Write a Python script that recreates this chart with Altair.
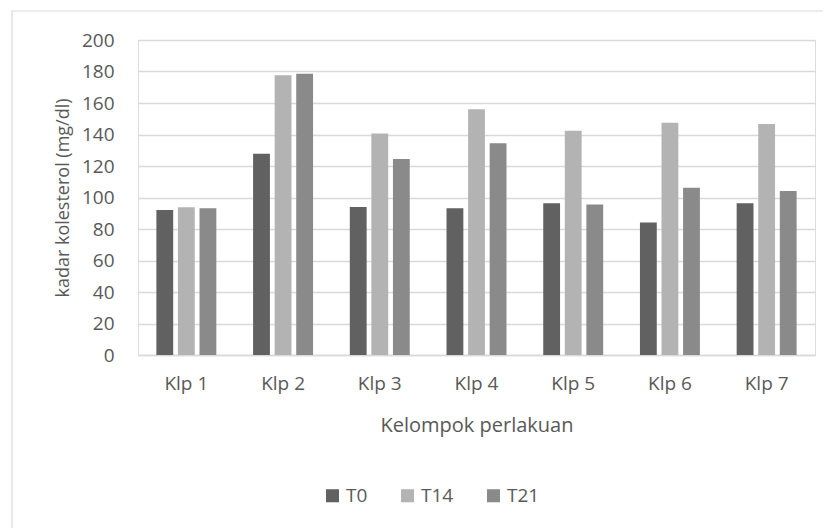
import altair as alt
import pandas as pd

groups = ["Klp 1", "Klp 2", "Klp 3", "Klp 4", "Klp 5", "Klp 6", "Klp 7"]
series = ["T0", "T14", "T21"]
t0 = [92.1, 127.8, 94.0, 93.1, 96.3, 84.2, 96.3]
t14 = [93.8, 177.6, 140.7, 156.0, 142.4, 147.5, 146.7]
t21 = [93.1, 178.6, 124.4, 134.4, 95.5, 106.2, 104.1]
colors = ["#616161", "#b3b3b3", "#8a8a8a"]

rows = []
for s, vals in zip(series, [t0, t14, t21]):
    for g, v in zip(groups, vals):
        rows.append({"group": g, "series": s, "value": v})
df = pd.DataFrame(rows)

FONT = "Open Sans"
TXT = "#595959"

bars = alt.Chart(df).mark_bar().encode(
    x=alt.X("group:N", sort=groups,
            scale=alt.Scale(paddingInner=0.38, paddingOuter=0.19),
            axis=alt.Axis(title="Kelompok perlakuan", labelAngle=0, ticks=False,
                          domain=True, domainColor="#d9d9d9", domainWidth=1.5,
                          labelFontSize=19, labelColor=TXT, labelFont=FONT, labelPadding=19,
                          titleFontSize=20, titleColor=TXT, titleFont=FONT, titleFontWeight="normal",
                          titlePadding=22, grid=False)),
    xOffset=alt.XOffset("series:N", sort=series,
                        scale=alt.Scale(paddingInner=0.22, paddingOuter=0)),
    y=alt.Y("value:Q", scale=alt.Scale(domain=[0, 200]),
            axis=alt.Axis(title="kadar kolesterol (mg/dl)", values=list(range(0, 201, 20)),
                          ticks=False, domain=False, grid=True, gridColor="#d9d9d9", gridWidth=1.5,
                          labelFontSize=19, labelColor=TXT, labelFont=FONT, labelPadding=24,
                          titleFontSize=18, titleColor=TXT, titleFont=FONT, titleFontWeight="normal",
                          titlePadding=9)),
    color=alt.Color("series:N", sort=series,
                    scale=alt.Scale(domain=series, range=colors),
                    legend=alt.Legend(title=None, orient="none", direction="horizontal",
                                      legendX=185, legendY=446, symbolType="square",
                                      symbolSize=170, symbolStrokeWidth=0,
                                      labelFontSize=19, labelColor=TXT, labelFont=FONT,
                                      columnPadding=30, labelOffset=4)),
)

border = alt.Chart(pd.DataFrame({"a": [0]})).mark_rect(
    fill=None, stroke="#d9d9d9", strokeWidth=1.2
).encode(x=alt.value(-126), x2=alt.value(720), y=alt.value(-29), y2=alt.value(520))

chart = alt.layer(border, bars).properties(
    width=677, height=315,
    autosize=alt.AutoSizeParams(type="none"),
    padding={"left": 130, "top": 32, "right": 8, "bottom": 175},
).configure_view(stroke=None).configure(background="white")

chart.save("out.html", embed_options={"renderer": "svg", "actions": False})
